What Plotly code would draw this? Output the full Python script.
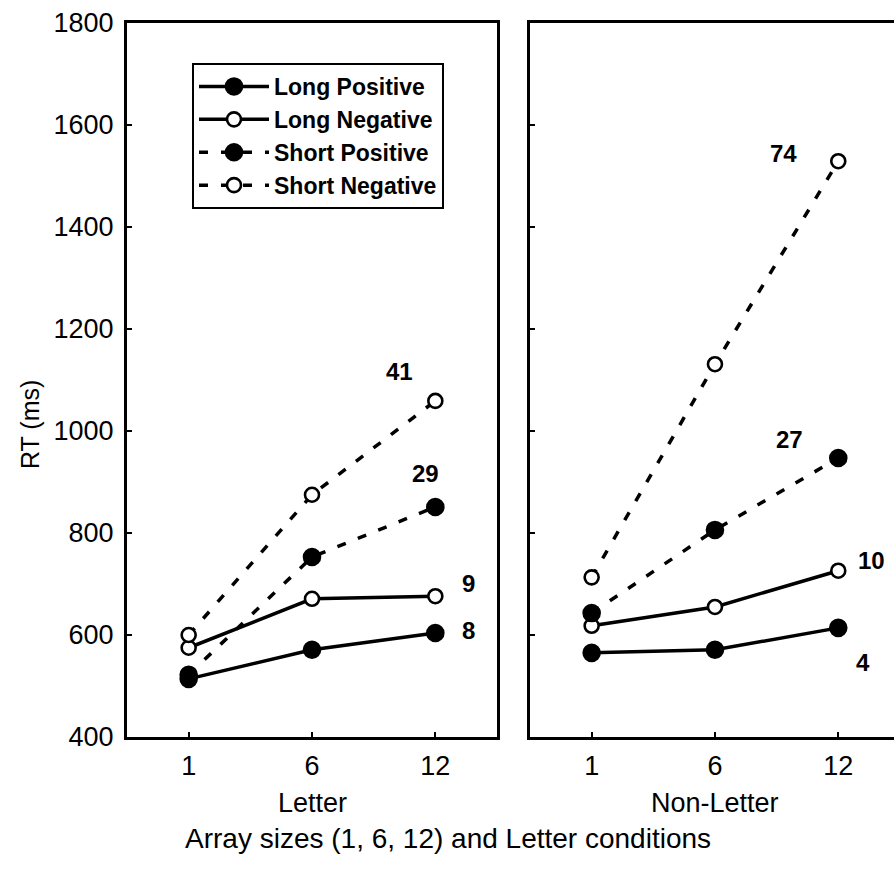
import plotly.graph_objects as go

# Array sizes shown on each panel's x axis
array_sizes = ["1", "6", "12"]

# Mean RT (ms), Letter condition
letter_long_pos = [514, 571, 604]
letter_long_neg = [575, 671, 676]
letter_short_pos = [522, 753, 851]
letter_short_neg = [600, 875, 1059]

# Mean RT (ms), Non-Letter condition
nonletter_long_pos = [565, 571, 614]
nonletter_long_neg = [618, 655, 726]
nonletter_short_pos = [643, 806, 947]
nonletter_short_neg = [713, 1131, 1529]

# Slope labels placed next to the array-size-12 point of each series
letter_slopes = {"Long Positive": "8", "Long Negative": "9",
                 "Short Positive": "29", "Short Negative": "41"}
nonletter_slopes = {"Long Positive": "4", "Long Negative": "10",
                    "Short Positive": "27", "Short Negative": "74"}

y_ticks = [400, 600, 800, 1000, 1200, 1400, 1600, 1800]

FONT = "Liberation Sans, Arial, sans-serif"
W, H = 894, 886

series_style = {
    "Long Positive": dict(dash="solid", fill="black"),
    "Long Negative": dict(dash="solid", fill="white"),
    "Short Positive": dict(dash="9px,13px", fill="black"),
    "Short Negative": dict(dash="9px,13px", fill="white"),
}

letter = {"Long Positive": letter_long_pos, "Long Negative": letter_long_neg,
          "Short Positive": letter_short_pos, "Short Negative": letter_short_neg}
nonletter = {"Long Positive": nonletter_long_pos, "Long Negative": nonletter_long_neg,
             "Short Positive": nonletter_short_pos, "Short Negative": nonletter_short_neg}

fig = go.Figure()


def add_panel(data, xa, ya, show_legend):
    for name, vals in data.items():
        st = series_style[name]
        fig.add_trace(go.Scatter(
            x=array_sizes, y=vals, name=name, mode="lines+markers",
            xaxis=xa, yaxis=ya, showlegend=show_legend,
            line=dict(color="black", width=3.5, dash=st["dash"]),
            marker=dict(symbol="circle", size=16 if st["fill"] == "black" else 14,
                        color=st["fill"], line=dict(color="black", width=2.6)),
        ))


add_panel(letter, "x", "y", True)
add_panel(nonletter, "x2", "y2", False)

# label offsets (px) relative to the last point of each series
label_offsets_left = {"Short Negative": (-36, 29), "Short Positive": (-10, 33),
                      "Long Negative": (33, 13), "Long Positive": (33, 2)}
label_offsets_right = {"Short Negative": (-55, 8), "Short Positive": (-49, 19),
                       "Long Negative": (33, 10), "Long Positive": (25, -35)}

last_idx = len(array_sizes) - 1
annotations = []
for data, slopes, offs, xr, yr in [
        (letter, letter_slopes, label_offsets_left, "x", "y"),
        (nonletter, nonletter_slopes, label_offsets_right, "x2", "y2")]:
    for name, vals in data.items():
        dx, dy = offs[name]
        annotations.append(dict(
            x=last_idx, y=vals[-1], xref=xr, yref=yr,
            text=f"<b>{slopes[name]}</b>", showarrow=False,
            xanchor="center", yanchor="middle",
            xshift=dx, yshift=dy,
            font=dict(family=FONT, size=24, color="black")))

# panel captions and titles
cap = dict(xref="paper", yref="paper", showarrow=False,
           xanchor="center", yanchor="middle")
annotations += [
    dict(x=312 / W, y=1 - 803 / H, text="Letter",
         font=dict(family=FONT, size=27, color="black"), **cap),
    dict(x=715 / W, y=1 - 803 / H, text="Non-Letter",
         font=dict(family=FONT, size=27, color="black"), **cap),
    dict(x=448 / W, y=1 - 838 / H,
         text="Array sizes (1, 6, 12) and Letter conditions",
         font=dict(family=FONT, size=28, color="black"), **cap),
    dict(x=30 / W, y=1 - 425 / H, text="RT (ms)", textangle=-90,
         font=dict(family=FONT, size=25, color="black"), **cap),
]

y_dom = [1 - 737 / H, 1 - 23 / H]

axis_common = dict(showgrid=False, zeroline=False, linecolor="black",
                   linewidth=3, ticks="inside", ticklen=5, tickwidth=2,
                   tickcolor="black", automargin=False,
                   tickfont=dict(family=FONT, size=27, color="black"))

fig.update_layout(
    width=W, height=H,
    margin=dict(l=0, r=0, t=0, b=0),
    paper_bgcolor="white", plot_bgcolor="white",
    xaxis=dict(domain=[127 / W, 497 / W], type="category",
               categoryorder="array", categoryarray=array_sizes,
               range=[-0.5, 2.5], showline=True, mirror=True,
               anchor="y", ticklabelstandoff=3, **axis_common),
    yaxis=dict(domain=y_dom, range=[400, 1800], tickvals=y_ticks,
               showline=True, mirror=True, anchor="x",
               ticklabelstandoff=5, **axis_common),
    xaxis2=dict(domain=[530 / W, 1.0], type="category",
                categoryorder="array", categoryarray=array_sizes,
                range=[-0.5, 2.452], showline=True, mirror=True,
                anchor="y2", ticklabelstandoff=3, **axis_common),
    yaxis2=dict(domain=y_dom, range=[400, 1800], tickvals=y_ticks,
                showline=True, mirror=False, anchor="x2",
                showticklabels=False, **axis_common),
    legend=dict(x=192 / W, y=1 - 63 / H, xanchor="left", yanchor="top",
                bgcolor="white", bordercolor="black", borderwidth=2,
                font=dict(family=FONT, size=23, color="black", weight="bold"),
                itemwidth=70, tracegroupgap=0),
    annotations=annotations,
)

fig.write_html("out.html")
